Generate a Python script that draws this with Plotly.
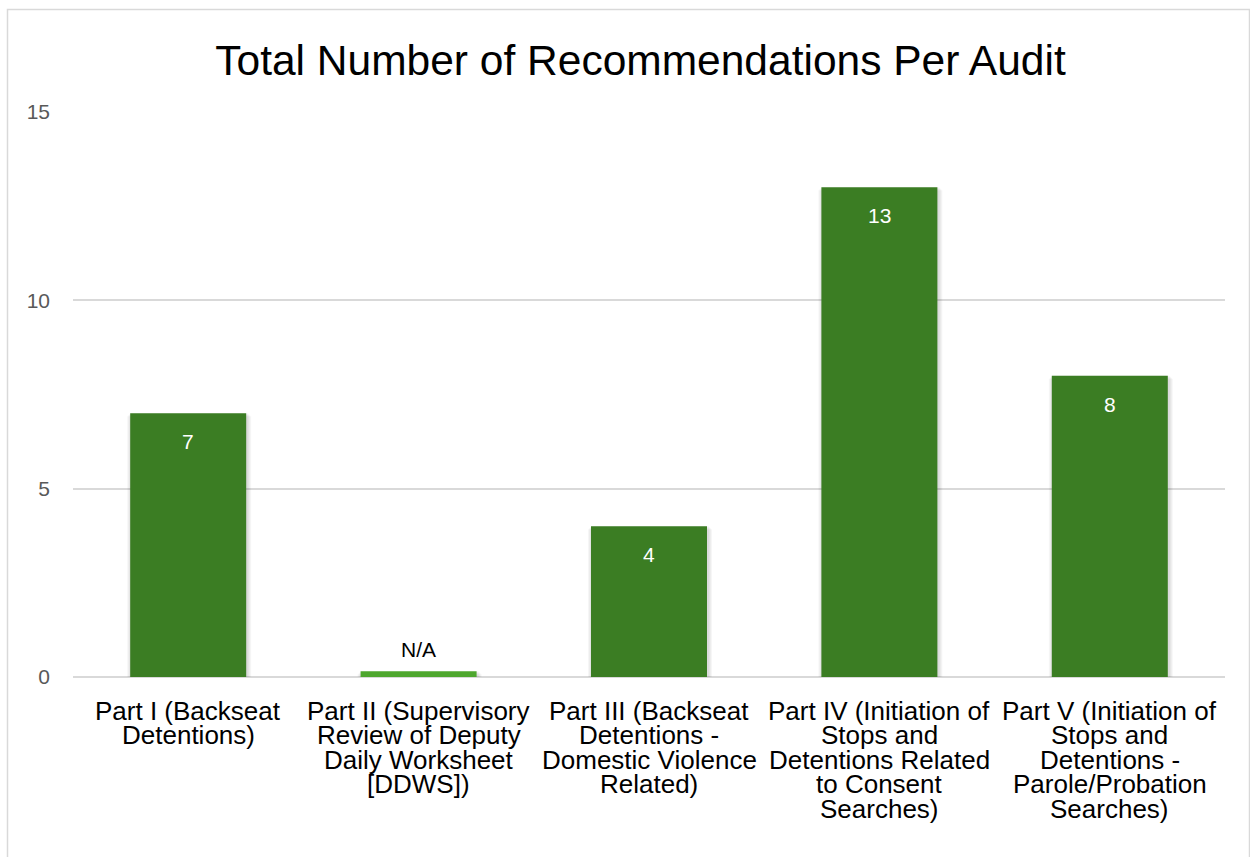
import plotly.graph_objects as go

# Audit parts (each list holds the wrapped lines of one category label)
categories = ["Part I", "Part II", "Part III", "Part IV", "Part V"]
category_lines = [
    ["Part I (Backseat", "Detentions)"],
    ["Part II (Supervisory", "Review of Deputy", "Daily Worksheet", "[DDWS])"],
    ["Part III (Backseat", "Detentions -", "Domestic Violence", "Related)"],
    ["Part IV (Initiation of", "Stops and", "Detentions Related", "to Consent", "Searches)"],
    ["Part V (Initiation of", "Stops and", "Detentions -", "Parole/Probation", "Searches)"],
]
# Recommendation counts; Part II has none (drawn as a sliver labelled N/A)
values = [7, 0.15, 4, 13, 8]
value_labels = ["7", "N/A", "4", "13", "8"]
y_ticks = [0, 5, 10, 15]

FONT = "Liberation Sans, Arial, sans-serif"
GREEN = "#3b7d23"
LIGHT_GREEN = "#4ea72e"
GRID = "#d9d9d9"

W, H = 1250, 857
ML, MR, MT, MB = 73, 25, 112, 180
pw = W - ML - MR
ph = H - MT - MB
X_UNIT = pw / len(categories)      # pixels per category slot
Y_UNIT = ph / 15.0                 # pixels per recommendation
BAR_W = 116 / X_UNIT               # bar width in category units

bar_colors = [LIGHT_GREEN if lab == "N/A" else GREEN for lab in value_labels]

fig = go.Figure()

# soft drop shadow behind the bars
for k in (4, 3, 2, 1):
    fig.add_trace(go.Bar(
        x=categories,
        y=[max(v - (k - 1) / Y_UNIT, 0.02) for v in values],
        width=BAR_W + 2 * k / X_UNIT,
        offset=-(BAR_W / 2) - (k - 1) / X_UNIT,
        marker=dict(color="rgba(0,0,0,0.035)", line=dict(width=0)),
        hoverinfo="skip",
    ))

fig.add_trace(go.Bar(
    x=categories,
    y=values,
    width=BAR_W,
    marker=dict(color=bar_colors, line=dict(width=0)),
    hoverinfo="skip",
))

annotations = []
# value labels: white inside the top of the bar, black above the N/A sliver
for cat, val, lab in zip(categories, values, value_labels):
    if lab == "N/A":
        annotations.append(dict(
            x=cat, y=val, xref="x", yref="y", text=lab, showarrow=False,
            yanchor="bottom", yshift=8,
            font=dict(family=FONT, size=21, color="#000000"),
        ))
    else:
        annotations.append(dict(
            x=cat, y=val, xref="x", yref="y", text=lab, showarrow=False,
            yanchor="top", yshift=-15,
            font=dict(family=FONT, size=21, color="#ffffff"),
        ))

# category labels, one annotation per wrapped line for tight line spacing
LINE_GAP = 24.4
for cat, lines in zip(categories, category_lines):
    for i, line in enumerate(lines):
        annotations.append(dict(
            x=cat, y=0, xref="x", yref="y", text=line, showarrow=False,
            yanchor="middle", yshift=-(34 + i * LINE_GAP), borderpad=0,
            font=dict(family=FONT, size=26, color="#000000"),
        ))

# outer chart frame in paper coordinates
def px_to_paper(xp, yp):
    return (xp - ML) / pw, (H - MB - yp) / ph

x0, y1 = px_to_paper(7.5, 9.5)
x1, y0 = px_to_paper(1249.5, 880)

fig.update_layout(
    width=W, height=H,
    margin=dict(l=ML, r=MR, t=MT, b=MB),
    paper_bgcolor="#ffffff",
    plot_bgcolor="#ffffff",
    showlegend=False,
    barmode="overlay",
    title=dict(
        text="Total Number of Recommendations Per Audit",
        x=640.5 / W, xanchor="center", xref="container",
        y=1 - 60 / H, yanchor="middle", yref="container",
        font=dict(family=FONT, size=42.5, color="#000000"),
    ),
    xaxis=dict(
        showticklabels=False, showgrid=False, zeroline=False,
        showline=False, ticks="", range=[-0.5, len(categories) - 0.5],
    ),
    yaxis=dict(
        range=[0, 15], tickvals=y_ticks, ticktext=[str(t) for t in y_ticks],
        showgrid=True, gridcolor=GRID, gridwidth=1.5,
        zeroline=True, zerolinecolor=GRID, zerolinewidth=1.5,
        showline=False, ticks="",
        tickfont=dict(family=FONT, size=21, color="#595959"),
        ticklabelstandoff=22,
    ),
    annotations=annotations,
    shapes=[dict(
        type="rect", xref="paper", yref="paper",
        x0=x0, x1=x1, y0=y0, y1=y1,
        line=dict(color=GRID, width=1.5), fillcolor="rgba(0,0,0,0)",
        layer="below",
    )],
)

fig.write_html("out.html")
